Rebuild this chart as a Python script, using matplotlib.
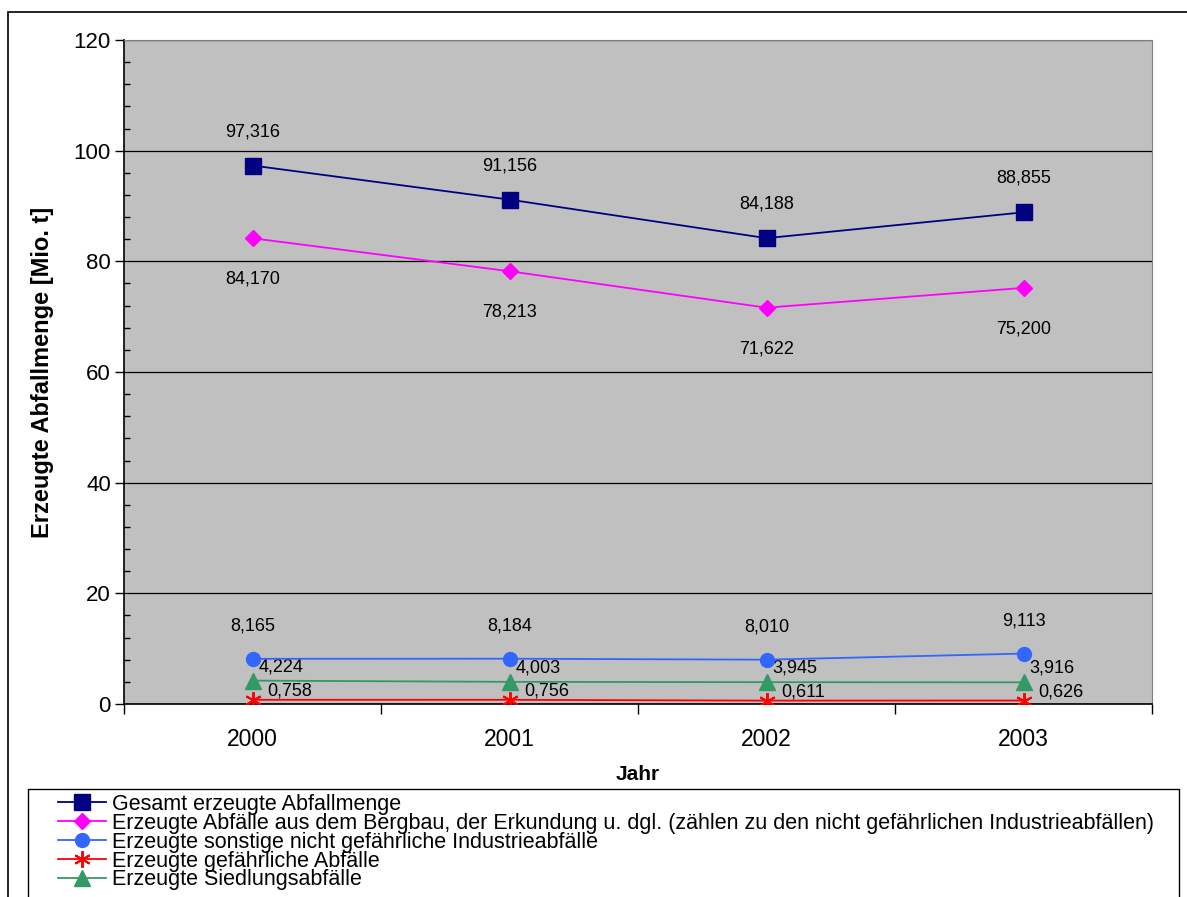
import matplotlib.pyplot as plt
from matplotlib.patches import Rectangle
from matplotlib.ticker import MultipleLocator

plt.rcParams['font.family'] = ['Liberation Sans', 'DejaVu Sans']

years = ['2000', '2001', '2002', '2003']
gesamt = [97.316, 91.156, 84.188, 88.855]
bergbau = [84.170, 78.213, 71.622, 75.200]
industrie = [8.165, 8.184, 8.010, 9.113]
gefaehrlich = [0.758, 0.756, 0.611, 0.626]
siedlung = [4.224, 4.003, 3.945, 3.916]

labels = [
    'Gesamt erzeugte Abfallmenge',
    'Erzeugte Abfälle aus dem Bergbau, der Erkundung u. dgl. '
    '(zählen zu den nicht gefährlichen Industrieabfällen)',
    'Erzeugte sonstige nicht gefährliche Industrieabfälle',
    'Erzeugte gefährliche Abfälle',
    'Erzeugte Siedlungsabfälle',
]

W, H = 1187, 897
PX = 72 / 100  # points per pixel at dpi 100


def fmt(v):
    return f'{v:.3f}'.replace('.', ',')


fig = plt.figure(figsize=(W / 100, H / 100), dpi=100)
# outer chart frame, open at the right and bottom edges
fig.patches.append(Rectangle((8 / W, -0.05), 1.0, 1.05 - 12 / H,
                             transform=fig.transFigure, fill=False,
                             edgecolor='black', linewidth=1.2))

ax = fig.add_axes([124 / W, (H - 704) / H, (1152 - 124) / W, (704 - 40) / H])
ax.set_facecolor('#C0C0C0')

x = list(range(len(years)))
styles = [
    (gesamt, '#000080', dict(marker='s', markersize=11.5)),
    (bergbau, '#FF00FF', dict(marker='D', markersize=8.5)),
    (industrie, '#3366FF', dict(marker='o', markersize=10)),
    (gefaehrlich, '#FF0000', dict(marker=(6, 2, 0), markersize=12,
                                  markeredgewidth=1.4)),
    (siedlung, '#339966', dict(marker='^', markersize=11)),
]
handles = []
for (vals, color, mk), lab in zip(styles, labels):
    h, = ax.plot(x, vals, color=color, linewidth=1.3, label=lab, zorder=4,
                 markerfacecolor=color, markeredgecolor=color, **mk)
    handles.append(h)

# value labels next to the markers
for xi in x:
    ax.annotate(fmt(gesamt[xi]), (xi, gesamt[xi]), xytext=(0, 34 * PX),
                textcoords='offset points', ha='center', va='center', fontsize=13)
    ax.annotate(fmt(bergbau[xi]), (xi, bergbau[xi]), xytext=(0, -41 * PX),
                textcoords='offset points', ha='center', va='center', fontsize=13)
    ax.annotate(fmt(industrie[xi]), (xi, industrie[xi]), xytext=(0, 33 * PX),
                textcoords='offset points', ha='center', va='center', fontsize=13)
    ax.annotate(fmt(siedlung[xi]), (xi, siedlung[xi]), xytext=(6 * PX, 14 * PX),
                textcoords='offset points', ha='left', va='center', fontsize=13)
    ax.annotate(fmt(gefaehrlich[xi]), (xi, gefaehrlich[xi]), xytext=(15 * PX, 9 * PX),
                textcoords='offset points', ha='left', va='center', fontsize=13)

ax.set_xlim(-0.5, len(years) - 0.5)
ax.set_ylim(0, 120)
ax.yaxis.set_major_locator(MultipleLocator(20))
ax.yaxis.set_minor_locator(MultipleLocator(4))
ax.grid(axis='y', which='major', color='black', linewidth=0.9)
ax.set_axisbelow(True)

# category boundaries carry the ticks, year labels sit between them
ax.set_xticks([i + 0.5 for i in x[:-1]] + [-0.5, 3.5])
ax.set_xticklabels([])
ax.set_xticks(x, minor=True)
ax.set_xticklabels(years, minor=True)
ax.tick_params(axis='x', which='major', direction='out', length=7, width=1)
ax.tick_params(axis='x', which='minor', length=0, pad=17, labelsize=16.5)
ax.tick_params(axis='y', which='major', direction='out', length=6.5, width=1,
               labelsize=16, pad=3)
ax.tick_params(axis='y', which='minor', direction='in', length=4, width=1)

for side in ('top', 'right'):
    ax.spines[side].set_color('#808080')
for side in ('left', 'bottom'):
    ax.spines[side].set_color('black')
    ax.spines[side].set_linewidth(1.2)

ax.set_ylabel('Erzeugte Abfallmenge [Mio. t]', fontsize=17, fontweight='bold',
              labelpad=14)
ax.set_xlabel('Jahr', fontsize=15, fontweight='bold', labelpad=10)

fig.patches.append(Rectangle((28 / W, -0.05), (1179 - 28) / W, 0.05 + (H - 789) / H,
                             transform=fig.transFigure, fill=False,
                             edgecolor='black', linewidth=1.0))
fig.legend(handles=handles, loc='upper left', bbox_to_anchor=(58 / W, 1 - 794 / H),
           frameon=False, fontsize=15.5, handlelength=2.23, handletextpad=0.28,
           labelspacing=-0.1, borderpad=0, borderaxespad=0)

fig.savefig('out.png', dpi=100)
